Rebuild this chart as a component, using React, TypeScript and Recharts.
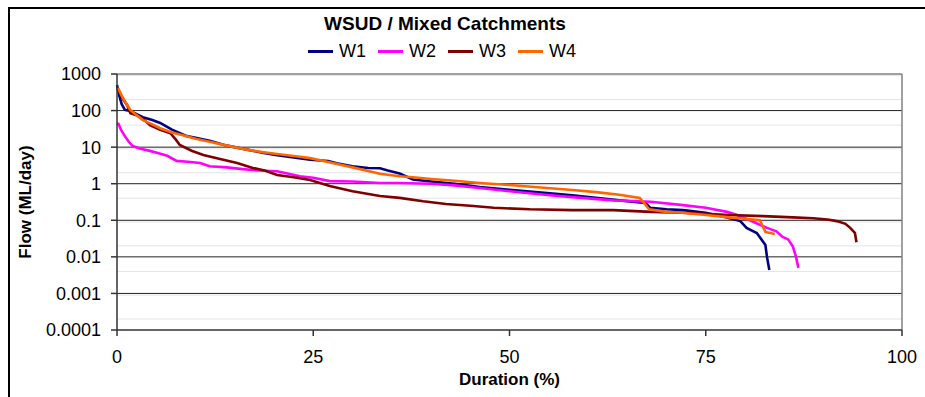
import React from 'react'
import { LineChart, Line, XAxis, YAxis, CartesianGrid, ReferenceLine } from 'recharts'

const FONT = '"Liberation Sans", Arial, sans-serif'

// duration (%) vs flow (ML/day)
const w1Duration = [0, 0.3, 0.6, 1.0, 1.7, 2.5, 3.3, 4.5, 5.5, 7, 8.9, 10, 11.8, 14, 16.9, 18.5, 20.4, 22.5, 24.6, 26.9, 28, 30, 32, 33.5, 34.5, 36, 37.7, 40, 43, 46.2, 50, 54.8, 58, 61, 64, 67.3, 67.9, 70, 72.1, 75, 77.7, 79.4, 80.2, 81.5, 82.6, 82.8, 83.1]
const w1Flow = [500, 250, 150, 105, 98, 80, 66, 55, 46, 30, 20, 18, 15, 11, 8.3, 7, 6, 5.2, 4.5, 4.2, 3.6, 3, 2.7, 2.65, 2.3, 1.9, 1.3, 1.15, 1.0, 0.81, 0.68, 0.56, 0.48, 0.41, 0.35, 0.3, 0.22, 0.2, 0.19, 0.16, 0.12, 0.095, 0.062, 0.045, 0.021, 0.01, 0.0044]

const w2Duration = [0, 0.2, 0.5, 1.0, 1.5, 2.0, 3, 4.2, 5.3, 6.4, 7.6, 9, 10.6, 11.8, 14, 16, 18, 20.4, 23.3, 25, 27.1, 30, 33.5, 36, 40, 43, 46.2, 50, 54.8, 58, 63.2, 68, 72.1, 75, 77.7, 79, 80.6, 82.8, 84, 84.8, 85.5, 86.1, 86.5, 86.8]
const w2Flow = [45, 43, 30, 20, 14, 10.7, 9, 7.9, 6.8, 5.8, 4.2, 4, 3.7, 3, 2.8, 2.5, 2.3, 2.2, 1.6, 1.45, 1.18, 1.15, 1.05, 1.05, 1.0, 0.9, 0.76, 0.62, 0.49, 0.43, 0.35, 0.32, 0.26, 0.22, 0.17, 0.14, 0.1, 0.062, 0.05, 0.035, 0.03, 0.019, 0.01, 0.005]

const w3Duration = [0, 0.2, 0.8, 1.3, 1.7, 2.5, 3.3, 4.2, 5.5, 6.8, 7.5, 8.0, 9.5, 11, 13, 15.3, 17.3, 18.8, 20.4, 22.5, 24.6, 27.1, 30, 33.5, 36, 39, 41.9, 45, 48, 52.6, 58, 63.2, 68, 72, 75, 78, 82.3, 86.1, 88.7, 90.5, 91.7, 92.8, 93.4, 94, 94.2]
const w3Flow = [400, 360, 200, 140, 85, 75, 60, 40, 30, 24, 16, 11.5, 8, 6.1, 4.8, 3.7, 2.7, 2.3, 1.73, 1.5, 1.26, 0.87, 0.62, 0.46, 0.41, 0.33, 0.28, 0.25, 0.22, 0.2, 0.19, 0.19, 0.17, 0.16, 0.15, 0.14, 0.13, 0.12, 0.114, 0.105, 0.095, 0.08, 0.062, 0.045, 0.025]

const w4Duration = [0, 0.2, 0.6, 1.0, 1.7, 2.5, 3.3, 4.5, 5.5, 7, 8.9, 10, 11.8, 14, 16.9, 18.5, 20.4, 22.5, 24.6, 26.9, 30, 33.5, 36, 37.7, 40, 43, 46.2, 50, 54.8, 58, 61, 64, 66.6, 67.8, 70, 72, 75, 78, 81.9, 82.6, 83.8]
const w4Flow = [390, 390, 250, 180, 104, 75, 55, 42, 33, 25, 20, 17, 14, 11, 8.3, 7.3, 6.5, 5.7, 5, 3.9, 2.8, 1.87, 1.6, 1.5, 1.35, 1.2, 1.05, 0.92, 0.76, 0.67, 0.59, 0.5, 0.41, 0.2, 0.17, 0.16, 0.14, 0.12, 0.1, 0.048, 0.042]

const seriesNames = ['W1', 'W2', 'W3', 'W4']
const seriesColors = ['#000080', '#FF00FF', '#800000', '#FF6600']

const xTicks = [0, 25, 50, 75, 100]
const yTicks = [0.0001, 0.001, 0.01, 0.1, 1, 10, 100, 1000]

const toPoints = (d: number[], v: number[]) => d.map((x, i) => ({ d: x, v: v[i] }))
const seriesData = [
  toPoints(w1Duration, w1Flow),
  toPoints(w2Duration, w2Flow),
  toPoints(w3Duration, w3Flow),
  toPoints(w4Duration, w4Flow),
]

// minor gridlines: 2..9 in every decade
const majorLines = yTicks.slice(1, -1)
const minorLines: number[] = []
yTicks.slice(0, -1).forEach(base => {
  for (let k = 2; k <= 9; k++) minorLines.push(+(base * k).toPrecision(3))
})

export default function App() {
  return (
    <div style={{ position: 'absolute', left: 0, top: 0, width: 925, height: 397, background: '#fff', overflow: 'hidden', fontFamily: FONT }}>
      <style>{'body{margin:0;overflow:hidden}'}</style>
      <div style={{ position: 'absolute', left: 8, top: 7, width: 925, height: 397, borderTop: '2px solid #000', borderLeft: '2px solid #000' }} />

      <div style={{ position: 'absolute', left: 0, width: 890, top: 13, textAlign: 'center', fontSize: 19, fontWeight: 'bold', color: '#000' }}>
        WSUD / Mixed Catchments
      </div>
      <div style={{ position: 'absolute', left: 308, top: 41, display: 'flex', fontSize: 18, color: '#000' }}>
        {seriesNames.map((n, i) => (
          <div key={n} style={{ display: 'flex', alignItems: 'center', width: 70 }}>
            <span style={{ display: 'inline-block', width: 25, height: 3, background: seriesColors[i], marginRight: 6 }} />
            <span>{n}</span>
          </div>
        ))}
      </div>

      <LineChart width={925} height={397} margin={{ top: 74, right: 23, bottom: 0, left: 0 }}>
        <CartesianGrid horizontalValues={minorLines} vertical={false} stroke="#e4e4e4" strokeWidth={1} />
        <CartesianGrid horizontalValues={majorLines} vertical={false} stroke="#222" strokeWidth={1} />
        <ReferenceLine y={1000} stroke="#808080" strokeWidth={1.5} />
        <ReferenceLine x={100} stroke="#808080" strokeWidth={1.5} />
        <XAxis
          type="number"
          dataKey="d"
          domain={[0, 100]}
          ticks={xTicks}
          height={67}
          stroke="#333"
          strokeWidth={1.5}
          tickSize={6}
          tickMargin={14}
          tick={{ fill: '#000', fontSize: 18, fontFamily: FONT }}
          label={{ value: 'Duration (%)', position: 'insideBottom', offset: 12, fill: '#000', fontSize: 17, fontWeight: 'bold', fontFamily: FONT }}
          allowDuplicatedCategory={false}
        />
        <YAxis
          type="number"
          scale="log"
          domain={[0.0001, 1000]}
          ticks={yTicks}
          allowDataOverflow
          width={117}
          stroke="#333"
          strokeWidth={1.5}
          tickSize={6}
          tickMargin={10}
          tickFormatter={v => String(v)}
          tick={{ fill: '#000', fontSize: 18, fontFamily: FONT }}
          label={{ value: 'Flow (ML/day)', angle: -90, position: 'insideLeft', offset: 25, fill: '#000', fontSize: 17, fontWeight: 'bold', fontFamily: FONT, style: { textAnchor: 'middle' } }}
        />
        {seriesNames.map((n, i) => (
          <Line
            key={n}
            data={seriesData[i]}
            dataKey="v"
            name={n}
            type="linear"
            stroke={seriesColors[i]}
            strokeWidth={2.6}
            dot={false}
            isAnimationActive={false}
          />
        ))}
      </LineChart>
    </div>
  )
}
